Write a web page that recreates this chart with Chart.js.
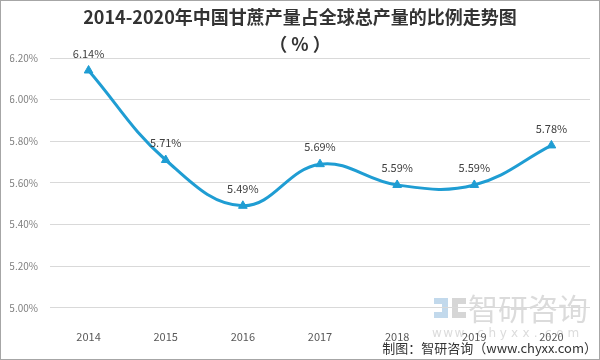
<!DOCTYPE html>
<html>
<head>
<meta charset="utf-8">
<script src="https://cdn.jsdelivr.net/npm/chart.js@4/dist/chart.umd.min.js"></script>
<style>
    html, body { margin: 0; padding: 0; background: #ffffff; }
    #wrap { width: 600px; height: 360px; position: relative; }
</style>
</head>
<body>
<div id="wrap"><canvas id="ratioChart" width="600" height="360"></canvas></div>
<script>
// 年份与比例数据（%）
const years = ['2014', '2015', '2016', '2017', '2018', '2019', '2020'];
const ratioValues = [6.14, 5.71, 5.49, 5.69, 5.59, 5.59, 5.78];
const yTicks = [5.0, 5.2, 5.4, 5.6, 5.8, 6.0, 6.2];

const titleLines = ['2014-2020年中国甘蔗产量占全球总产量的比例走势图', '（ % ）'];
const sourceText = '制图：智研咨询（www.chyxx.com）';

const CJK = "'Noto Sans CJK SC', 'Noto Sans', sans-serif";
const LINE_COLOR = '#1f9dd3';

// 数据标签、水印、边框
const decorPlugin = {
    id: 'decor',
    beforeDraw: (chart) => {
        const ctx = chart.ctx;
        ctx.save();
        ctx.fillStyle = '#ffffff';
        ctx.fillRect(0, 0, chart.width, chart.height);
        // 水印
        ctx.globalAlpha = 0.55;
        ctx.fillStyle = '#8fb9dd';
        ctx.fillRect(434, 298, 14, 6);
        ctx.fillRect(442, 304, 6, 8);
        ctx.fillRect(434, 312, 14, 6);
        ctx.fillStyle = '#b5b5b5';
        ctx.fillRect(452, 298, 14, 6);
        ctx.fillRect(452, 304, 6, 8);
        ctx.fillRect(452, 312, 14, 6);
        ctx.fillStyle = '#bdbdbd';
        ctx.font = `30px ${CJK}`;
        ctx.textBaseline = 'middle';
        ctx.textAlign = 'left';
        ctx.fillText('智研咨询', 468, 309);
        ctx.font = "12px 'DejaVu Sans', sans-serif";
        const site = 'www.chyxx.com';
        for (let i = 0; i < site.length; i++) {
            ctx.fillText(site[i], 432 + i * 11.3, 334);
        }
        ctx.restore();
    },
    afterDatasetsDraw: (chart) => {
        const ctx = chart.ctx;
        const meta = chart.getDatasetMeta(0);
        ctx.save();
        ctx.fillStyle = '#404040';
        ctx.font = `11px ${CJK}`;
        ctx.textAlign = 'center';
        ctx.textBaseline = 'middle';
        meta.data.forEach((pt, i) => {
            ctx.fillText(ratioValues[i].toFixed(2) + '%', pt.x, pt.y - 17);
        });
        ctx.restore();
    },
    afterDraw: (chart) => {
        const ctx = chart.ctx;
        ctx.save();
        ctx.fillStyle = '#333333';
        ctx.font = `13px ${CJK}`;
        ctx.textAlign = 'right';
        ctx.textBaseline = 'middle';
        ctx.fillText(sourceText, 597, 348);
        ctx.strokeStyle = '#a6a6a6';
        ctx.lineWidth = 1;
        ctx.strokeRect(0.5, 0.5, chart.width - 1, chart.height - 1);
        ctx.restore();
    },
};

new Chart(document.getElementById('ratioChart').getContext('2d'), {
    type: 'line',
    data: {
        labels: years,
        datasets: [
            {
                data: ratioValues,
                borderColor: LINE_COLOR,
                backgroundColor: LINE_COLOR,
                borderWidth: 3,
                tension: 0.4,
                pointStyle: 'triangle',
                pointRadius: 5,
                pointBorderWidth: 1,
                clip: false,
            },
        ],
    },
    options: {
        responsive: false,
        animation: false,
        layout: { padding: { left: 10, right: 10, top: 0, bottom: 3 } },
        plugins: {
            legend: { display: false },
            tooltip: { enabled: false },
            title: {
                display: true,
                text: titleLines,
                color: '#333333',
                font: { family: CJK, size: 18, weight: 'bold', lineHeight: 1.5 },
                padding: { top: 4, bottom: 0 },
            },
        },
        scales: {
            x: {
                offset: true,
                grid: { display: false },
                border: { display: false },
                ticks: { color: '#595959', font: { family: CJK, size: 11 }, padding: 14 },
            },
            y: {
                min: 5.0,
                max: 6.2,
                afterFit: (scale) => { scale.width = 40; },
                afterBuildTicks: (scale) => { scale.ticks = yTicks.map((v) => ({ value: v })); },
                grid: { color: '#d9d9d9', drawTicks: false },
                border: { display: false },
                ticks: {
                    color: '#808080',
                    padding: 12,
                    font: { family: CJK, size: 10 },
                    callback: (v) => Number(v).toFixed(2) + '%',
                },
            },
        },
    },
    plugins: [decorPlugin],
});
</script>
</body>
</html>
